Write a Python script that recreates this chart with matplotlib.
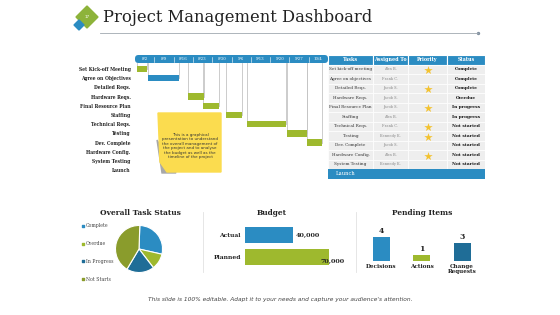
import matplotlib
matplotlib.use('Agg')
import matplotlib.pyplot as plt
from matplotlib.patches import Rectangle, Polygon, FancyBboxPatch

W, H = 560, 315
SERIF = 'DejaVu Serif'
BLUE = '#2b8cc2'
DARK_BLUE = '#1f6d97'
GREEN = '#9eb92e'
OLIVE = '#8a9c2c'

# gantt data
gantt_dates = ['8/2', '8/9', '8/16', '8/23', '8/30', '9/6', '9/13', '9/20', '9/27', '10/4']
gantt_tasks = ['Set Kick-off Meeting', 'Agree on Objectives', 'Detailed Reqs.', 'Hardware Reqs.',
               'Final Resource Plan', 'Staffing', 'Technical Reqs.', 'Testing', 'Dev. Complete',
               'Hardware Config.', 'System Testing', 'Launch']
bar_rows = [0, 1, 3, 4, 5, 6, 7, 8]
bar_start = [0.1, 0.67, 2.75, 3.5, 4.7, 5.8, 7.9, 8.9]
bar_weeks = [0.5, 1.6, 0.8, 0.85, 0.85, 2.0, 1.0, 0.8]

# task table
table_cols = ['Tasks', 'Assigned To', 'Priority', 'Status']
table_tasks = ['Set kick-off meeting', 'Agree on objectives', 'Detailed Reqs.', 'Hardware Reqs.',
               'Final Resource Plan', 'Staffing', 'Technical Reqs.', 'Testing', 'Dev. Complete',
               'Hardware Config.', 'System Testing']
assigned = ['Alex B.', 'Frank C.', 'Jacob S.', 'Jacob S.', 'Jacob S.', 'Alex B.', 'Frank C.',
            'Kennedy K.', 'Jacob S.', 'Alex B.', 'Kennedy K.']
status = ['Complete', 'Complete', 'Complete', 'Overdue', 'In progress', 'In progress',
          'Not started', 'Not started', 'Not started', 'Not started', 'Not started']
star_rows = [1, 3, 5, 7, 8, 10]

# task status pie
status_labels = ['Complete', 'Overdue', 'In Progress', 'Not Starts']
status_share = [28, 11, 19, 42]

# budget
budget_labels = ['Actual', 'Planned']
budget_values = [40000, 70000]

# pending items
pending_labels = ['Decisions', 'Actions', 'Change\nRequests']
pending_counts = [4, 1, 3]

fig = plt.figure(figsize=(W / 100, H / 100), dpi=100)
fig.patch.set_facecolor('white')


def px_axes(x0, y0, x1, y1):
    return fig.add_axes([x0 / W, 1 - y1 / H, (x1 - x0) / W, (y1 - y0) / H])


# ---- gantt ----
g = px_axes(135, 55, 328, 175)
g.set_xlim(0, 10)
g.set_ylim(11.52, -1.52)
g.add_patch(FancyBboxPatch((0, -1.52), 10, 0.87, boxstyle='round,pad=0,rounding_size=0.18',
                           mutation_aspect=2.1, color=BLUE, lw=0))
for i, d in enumerate(gantt_dates):
    g.text(i + 0.5, -1.08, d, color='white', fontsize=2.8, ha='center', va='center', family=SERIF)
    if i:
        g.plot([i, i], [-1.35, -0.8], color='white', lw=0.4)
for r, s, w in zip(bar_rows, bar_start, bar_weeks):
    for x in (s, s + w):
        g.plot([x, x], [-0.65, r], color='#c4c4c4', lw=0.6, zorder=1)
g.barh(bar_rows, bar_weeks, left=bar_start, height=0.7,
       color=[BLUE if r == 1 else GREEN for r in bar_rows], zorder=2)
g.set_yticks(range(len(gantt_tasks)))
g.set_yticklabels(gantt_tasks, fontsize=3.25, fontweight='bold', family=SERIF, color='#222')
g.tick_params(axis='y', length=0, pad=3)
g.set_xticks([])
for sp in g.spines.values():
    sp.set_visible(False)
g.patch.set_alpha(0)

# ---- table ----
t = px_axes(328, 55, 485, 178.5)
t.set_xlim(0, 157)
t.set_ylim(12, -1)
t.axis('off')
col_edges = [0, 45, 80, 119, 157]
for c, name in enumerate(table_cols):
    x0, x1 = col_edges[c], col_edges[c + 1]
    t.add_patch(Rectangle((x0, -1), x1 - x0, 1, facecolor=BLUE, edgecolor='white', lw=0.8))
    t.text((x0 + x1) / 2, -0.5, name, color='white', fontsize=3.4, fontweight='bold',
           family=SERIF, ha='center', va='center')
    for r in range(len(table_tasks)):
        t.add_patch(Rectangle((x0, r), x1 - x0, 1, facecolor='#eeeeee', edgecolor='white', lw=0.5))
for r in range(len(table_tasks)):
    t.text(22.5, r + 0.5, table_tasks[r], fontsize=3.0, family=SERIF, color='#333',
           ha='center', va='center')
    t.text(62.5, r + 0.5, assigned[r], fontsize=2.6, family=SERIF, color='#888',
           ha='center', va='center')
    t.text(138, r + 0.5, status[r], fontsize=3.2, family=SERIF, fontweight='bold', color='#111',
           ha='center', va='center')
t.scatter([99.5] * len(star_rows), [r - 0.4 for r in star_rows], marker='*', s=40,
          color='#f3c22f', zorder=3, lw=0)
t.add_patch(Rectangle((0, 11), 157, 1, facecolor=BLUE, edgecolor='none'))
t.text(8, 11.5, 'Launch', color='white', fontsize=3.8, family=SERIF, va='center')

# ---- pie ----
p = px_axes(115, 225, 163, 273)
pie_colors = [BLUE, GREEN, DARK_BLUE, OLIVE]
p.pie(status_share, colors=pie_colors, startangle=88, counterclock=False,
      wedgeprops=dict(edgecolor='white', linewidth=0.8))
p.set_xlim(-1.02, 1.02)
p.set_ylim(-1.02, 1.02)

# ---- budget ----
b = px_axes(245, 222, 345, 270)
b.set_xlim(0, 83333)
b.set_ylim(1.59, -0.59)
b.barh(range(len(budget_values)), budget_values, height=0.73, color=[BLUE, GREEN])
b.set_yticks(range(len(budget_labels)))
b.set_yticklabels(budget_labels, fontsize=4.3, fontweight='bold', family=SERIF, color='#222')
b.tick_params(axis='y', length=0, pad=3)
b.set_xticks([])
for sp in b.spines.values():
    sp.set_visible(False)
b.patch.set_alpha(0)
label_offsets = [(2, 0), (-6, -3)]
for i, v in enumerate(budget_values):
    b.annotate(f'{v:,}', (v, i), xytext=label_offsets[i], textcoords='offset points',
               ha='left', va='center', fontsize=4.6, fontweight='bold', family=SERIF, color='#222')

# ---- pending ----
q = px_axes(360, 225, 484, 261)
q.set_xlim(-0.52, 2.54)
q.set_ylim(0, 6)
q.bar(range(len(pending_counts)), pending_counts, width=0.42, color=[BLUE, GREEN, DARK_BLUE])
for i, v in enumerate(pending_counts):
    q.annotate(str(v), (i, v), xytext=(0, 1.5), textcoords='offset points', ha='center',
               va='bottom', fontsize=5.5, fontweight='bold', family=SERIF, color='#222')
q.set_xticks(range(len(pending_labels)))
q.set_xticklabels(pending_labels, fontsize=4.1, fontweight='bold', family=SERIF, color='#222',
                  linespacing=1.15)
q.tick_params(axis='x', length=0, pad=2)
q.set_yticks([])
for sp in q.spines.values():
    sp.set_visible(False)
q.patch.set_alpha(0)

# ---- overlay decorations ----
bg = fig.add_axes([0, 0, 1, 1], zorder=10)
bg.set_xlim(0, W)
bg.set_ylim(H, 0)
bg.axis('off')

bg.add_patch(Polygon([(87, 6), (98, 17), (87, 28), (76, 17)], color='#8db33a'))
bg.add_patch(Polygon([(79, 20), (84, 25), (79, 30), (74, 25)], color=BLUE))
bg.text(87, 17, '17', color='white', fontsize=3, ha='center', va='center')
bg.text(103, 18, 'Project Management Dashboard', fontsize=11.8, family=SERIF,
        color='#222', va='center')
bg.plot([100, 478], [33, 33], color='#a0a8b0', lw=0.6)
bg.scatter([478], [33], s=2, color='#8090a0')

# sticky note
bg.add_patch(Polygon([(157, 140), (162, 173), (176, 173)], color='#a8a8a8'))
bg.add_patch(Polygon([(158, 113), (221, 113), (221, 172), (167, 172), (160, 162)],
                     color='#fbdc4f'))
bg.text(190, 146, 'This is a graphical\npresentation to understand\nthe overall management of\n'
        'the project and to analyse\nthe budget as well as the\ntimeline of the project',
        fontsize=2.9, ha='center', va='center', color='#333', linespacing=1.15)

# section titles
for x, s in [(140, 'Overall Task Status'), (272, 'Budget'), (422, 'Pending Items')]:
    bg.text(x, 213, s, fontsize=5.4, fontweight='bold', family=SERIF, ha='center',
            va='center', color='#222')
for x in (203, 356):
    bg.plot([x, x], [212, 272], color='#e2e2e2', lw=0.6)

for i, (lab, col) in enumerate(zip(status_labels, pie_colors)):
    y = 226 + i * 17.7
    bg.scatter([83], [y], s=1.5, color=col, marker='s')
    bg.text(86, y, lab, fontsize=3.3, family=SERIF, color='#444', va='center')

bg.text(280, 300, "This slide is 100% editable. Adapt it to your needs and capture your "
        "audience's attention.", fontsize=4.2, style='italic', color='#444',
        ha='center', va='center')

fig.savefig('out.png', dpi=100)
